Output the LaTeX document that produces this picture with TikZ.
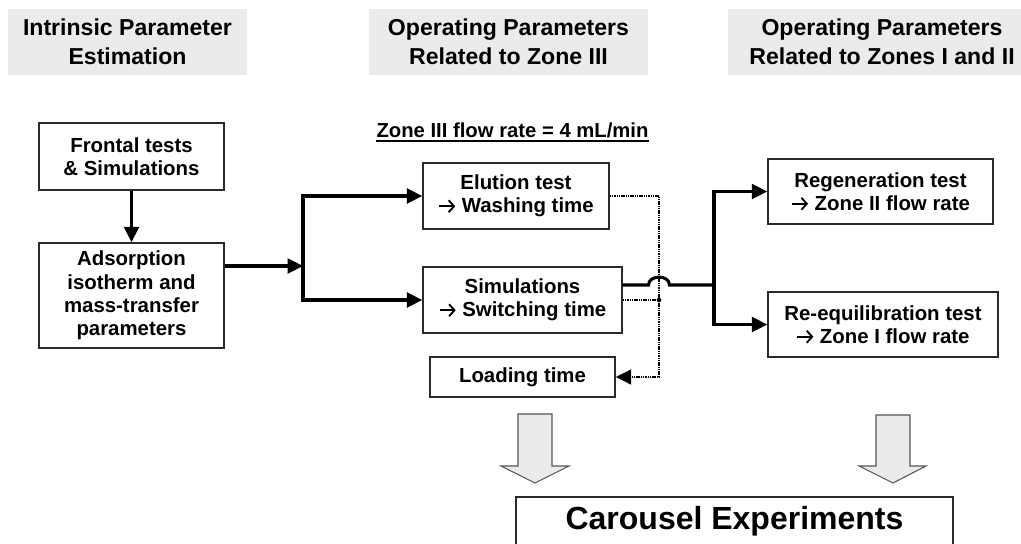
\documentclass[tikz,border=0pt]{standalone}
\usepackage{fontspec}
\setmainfont{Liberation Sans}
\usetikzlibrary{arrows.meta,calc}
\newcommand\ar{\tikz[baseline=-5pt]\draw[line width=1.4pt,-{Straight Barb[length=4pt,width=9pt]}] (0pt,0pt) -- (12pt,0pt);}
\definecolor{hdr}{HTML}{EBEBEB}
\definecolor{bord}{HTML}{2A2A2A}
\definecolor{blkedge}{HTML}{555555}
\begin{document}
\begin{tikzpicture}[x=0.75pt,y=-0.75pt,
  >={Triangle[length=11.5pt,width=11pt]},
  box/.style={draw=bord,line width=1.1pt,align=center,inner sep=0pt,
    font=\fontsize{15.3}{17.5}\selectfont\bfseries},
  hdrbox/.style={fill=hdr,align=center,inner sep=0pt,
    font=\fontsize{17.3}{22}\selectfont\bfseries},
  conn/.style={line width=2.3pt},
  dotl/.style={line width=1.8pt,dash pattern=on 1.1pt off 0.6pt},
  blk/.style={fill=hdr,draw=blkedge,line width=0.8pt,line join=miter}]
\useasboundingbox (0,0) rectangle (1021,543);
\clip (0,0) rectangle (1021,543);

% headers
\node[hdrbox,minimum width=179.25pt,minimum height=49.5pt] (h1) at (127.5,42) {Intrinsic Parameter\\Estimation};
\node[hdrbox,minimum width=209.25pt,minimum height=49.5pt] (h2) at (508.5,42) {Operating Parameters\\Related to Zone III};
\node[hdrbox,minimum width=231pt,minimum height=49.5pt] (h3) at (882,42) {Operating Parameters\\Related to Zones I and II};

% zone III label
\node[inner sep=0pt,anchor=base,font=\fontsize{15.2}{17}\selectfont\bfseries] (zl) at (512.5,137) {Zone III flow rate = 4 mL/min};
\draw[line width=1.2pt] ([yshift=-3pt]zl.base west) -- ([yshift=-3pt]zl.base east);

% boxes
\node[box,minimum width=138.75pt,minimum height=50.25pt] (front) at (131.5,156.5) {Frontal tests\\\& Simulations};
\node[box,minimum width=138.75pt,minimum height=78.75pt] (ads) at (131.5,295.5) {Adsorption\\isotherm and\\mass-transfer\\parameters};
\node[box,minimum width=139.5pt,minimum height=49.5pt] (elu) at (516,196) {Elution test\\\ar\ Washing time};
\node[box,minimum width=149.25pt,minimum height=49.5pt] (sim) at (522.5,300) {Simulations\\\ar\ Switching time};
\node[box,minimum width=138.75pt,minimum height=30pt] (load) at (522.5,377) {Loading time};
\node[box,minimum width=168.75pt,minimum height=48.75pt] (regen) at (880.5,191.5) {Regeneration test\\\ar\ Zone II flow rate};
\node[box,minimum width=172.5pt,minimum height=48.75pt] (reeq) at (883,324.5) {Re-equilibration test\\\ar\ Zone I flow rate};

% carousel
\draw[draw=bord,line width=1.1pt] (516,497) rectangle (953,570);
\node[inner sep=0pt,anchor=base,font=\fontsize{24}{28}\selectfont\bfseries] (car) at (734.5,529) {Carousel Experiments};

% connectors
\coordinate (b1) at (303,266);
\coordinate (b2) at (714,285);
\coordinate (dv) at (659,300);
\draw[conn,->] (front) -- (ads);
\draw[conn,->] (ads.east |- b1) -- (b1);
\draw[conn,<->] (elu.west) -| (b1) |- (sim.west);

% dotted feedback
\draw[dotl,->] (elu.east) -| (dv |- load.east) -- (load.east);
\draw[dotl] (sim.east) -- (dv);
\fill (dv) circle[radius=1.7pt];

% solid line with hop
\draw[conn] (sim.east |- b2) -- (648.5,285) .. controls (648.5,274.5) and (669.5,274.5) .. (669.5,285) -- (b2);
\draw[conn,<->] (regen.west) -| (b2) |- (reeq.west);

% block arrows
\draw[blk] (518,414) -- (552,414) -- (552,466) -- (569,466) -- (535,483) -- (501,466) -- (518,466) -- cycle;
\draw[blk] (876,415) -- (910,415) -- (910,466) -- (926,466) -- (893,483) -- (859,466) -- (876,466) -- cycle;
\end{tikzpicture}
\end{document}
